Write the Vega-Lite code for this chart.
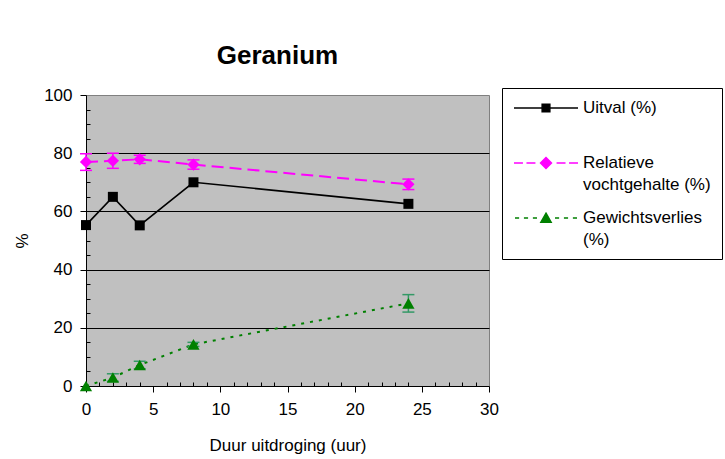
{
  "$schema": "https://vega.github.io/schema/vega-lite/v6.json",
  "width": 403,
  "height": 291,
  "autosize": {"type": "none"},
  "padding": {"left": 86, "top": 95, "right": 236, "bottom": 73},
  "background": "white",
  "title": {
    "text": "Geranium",
    "font": "Liberation Sans",
    "fontSize": 26,
    "fontWeight": "bold",
    "color": "black",
    "anchor": "middle",
    "offset": 17,
    "dx": -10
  },
  "config": {
    "font": "Liberation Sans",
    "view": {"fill": "#C0C0C0", "stroke": "#808080", "strokeWidth": 1},
    "axis": {
      "labelFont": "Liberation Sans",
      "labelFontSize": 17,
      "labelColor": "black",
      "titleFont": "Liberation Sans",
      "titleFontSize": 17,
      "titleFontWeight": "normal",
      "titleColor": "black",
      "domainColor": "black",
      "domainWidth": 1,
      "tickColor": "black",
      "tickWidth": 1
    }
  },
  "data": {
    "values": [
      {"uur": 0, "reeks": "Uitval (%)", "waarde": 55.3},
      {"uur": 2, "reeks": "Uitval (%)", "waarde": 65.0},
      {"uur": 4, "reeks": "Uitval (%)", "waarde": 55.2},
      {"uur": 8, "reeks": "Uitval (%)", "waarde": 70.0},
      {"uur": 24, "reeks": "Uitval (%)", "waarde": 62.6},
      {"uur": 0, "reeks": "Relatieve vochtgehalte (%)", "waarde": 77.0, "laag": 74.1, "hoog": 79.8},
      {"uur": 2, "reeks": "Relatieve vochtgehalte (%)", "waarde": 77.4, "laag": 74.8, "hoog": 80.0},
      {"uur": 4, "reeks": "Relatieve vochtgehalte (%)", "waarde": 77.9, "laag": 76.5, "hoog": 79.3},
      {"uur": 8, "reeks": "Relatieve vochtgehalte (%)", "waarde": 76.1, "laag": 74.5, "hoog": 77.7},
      {"uur": 24, "reeks": "Relatieve vochtgehalte (%)", "waarde": 69.3, "laag": 67.5, "hoog": 71.1},
      {"uur": 0, "reeks": "Gewichtsverlies (%)", "waarde": 0.0, "laag": 0.0, "hoog": 0.0},
      {"uur": 2, "reeks": "Gewichtsverlies (%)", "waarde": 2.9, "laag": 1.6, "hoog": 4.2},
      {"uur": 4, "reeks": "Gewichtsverlies (%)", "waarde": 7.2, "laag": 5.9, "hoog": 8.5},
      {"uur": 8, "reeks": "Gewichtsverlies (%)", "waarde": 14.3, "laag": 13.6, "hoog": 15.0},
      {"uur": 24, "reeks": "Gewichtsverlies (%)", "waarde": 28.4, "laag": 25.4, "hoog": 31.4}
    ]
  },
  "encoding": {
    "x": {
      "field": "uur",
      "type": "quantitative",
      "scale": {"domain": [0, 30], "nice": false},
      "axis": {
        "title": "Duur uitdroging (uur)",
        "values": [0,1,2,3,4,5,6,7,8,9,10,11,12,13,14,15,16,17,18,19,20,21,22,23,24,25,26,27,28,29,30],
        "labelExpr": "datum.value % 5 === 0 ? datum.label : ''",
        "tickSize": {"expr": "datum.value % 5 === 0 ? 6 : -4"},
        "labelPadding": 9,
        "labelFlush": false,
        "labelOverlap": false,
        "titlePadding": 20,
        "grid": false
      }
    },
    "y": {
      "field": "waarde",
      "type": "quantitative",
      "scale": {"domain": [0, 100], "nice": false},
      "axis": {
        "title": "%",
        "values": [0,5,10,15,20,25,30,35,40,45,50,55,60,65,70,75,80,85,90,95,100],
        "labelExpr": "datum.value % 20 === 0 ? datum.label : ''",
        "tickSize": {"expr": "datum.value % 20 === 0 ? 6 : -4"},
        "labelPadding": 8,
        "labelFlush": false,
        "labelOverlap": false,
        "titlePadding": 12,
        "grid": true,
        "gridColor": "black",
        "gridWidth": 1,
        "gridOpacity": {"expr": "datum.value % 20 === 0 && datum.value > 0 && datum.value < 100 ? 1 : 0"}
      }
    },
    "color": {
      "field": "reeks",
      "type": "nominal",
      "scale": {
        "domain": ["Uitval (%)", "Relatieve vochtgehalte (%)", "Gewichtsverlies (%)"],
        "range": ["#000000", "#FF00FF", "#008000"]
      },
      "legend": {
        "title": null,
        "orient": "none",
        "legendX": 416,
        "legendY": -7,
        "strokeColor": "black",
        "fillColor": "white",
        "padding": 11,
        "symbolSize": 256,
        "symbolOffset": 24,
        "labelFont": "Liberation Sans",
        "labelFontSize": 17,
        "labelColor": "black",
        "labelOffset": 28,
        "labelLimit": 300,
        "rowPadding": 16,
        "labelExpr": "datum.value === 'Relatieve vochtgehalte (%)' ? ['Relatieve', 'vochtgehalte (%)'] : datum.value === 'Gewichtsverlies (%)' ? ['Gewichtsverlies', '(%)'] : [datum.value, ' ']",
        "encode": {
          "symbols": {
            "update": {
              "shape": {"signal": "datum.value === 'Uitval (%)' ? 'M-4,0H-0.48M0.48,0H4M-0.48,-0.48H0.48V0.48H-0.48Z' : datum.value === 'Relatieve vochtgehalte (%)' ? 'M-4,0H-2.88M-2.44,0H-1.32M1.32,0H2.44M2.88,0H4M0,-0.68L0.68,0L0,0.68L-0.68,0Z' : 'M-3.88,0H-3.36M-2.76,0H-2.24M-1.64,0H-1.12M1.12,0H1.64M2.24,0H2.76M3.36,0H3.88M0,-0.6L0.64,0.52L-0.64,0.52Z'"},
              "fill": {"scale": "color", "field": "value"},
              "stroke": {"scale": "color", "field": "value"},
              "strokeWidth": {"value": 1.5},
              "opacity": {"value": 1}
            }
          },
          "labels": {
            "update": {
              "lineHeight": {"value": 22}
            }
          }
        }
      }
    }
  },
  "layer": [
    {
      "transform": [{"filter": "datum.reeks === 'Uitval (%)'"}],
      "mark": {"type": "line", "strokeWidth": 1.6}
    },
    {
      "transform": [{"filter": "datum.reeks === 'Uitval (%)'"}],
      "mark": {"type": "point", "shape": "square", "filled": true, "size": 100, "opacity": 1}
    },
    {
      "transform": [{"filter": "datum.reeks === 'Relatieve vochtgehalte (%)'"}],
      "mark": {"type": "line", "strokeWidth": 2, "strokeDash": [12, 6]}
    },
    {
      "transform": [{"filter": "datum.reeks === 'Relatieve vochtgehalte (%)'"}],
      "mark": {"type": "rule", "strokeWidth": 1.5, "color": "#FF00FF"},
      "encoding": {"y": {"field": "laag", "type": "quantitative"}, "y2": {"field": "hoog"}, "color": null}
    },
    {
      "transform": [{"filter": "datum.reeks === 'Relatieve vochtgehalte (%)'"}],
      "mark": {"type": "tick", "orient": "horizontal", "size": 12, "thickness": 1.5, "color": "#FF00FF", "opacity": 1},
      "encoding": {"y": {"field": "laag", "type": "quantitative"}, "color": null}
    },
    {
      "transform": [{"filter": "datum.reeks === 'Relatieve vochtgehalte (%)'"}],
      "mark": {"type": "tick", "orient": "horizontal", "size": 12, "thickness": 1.5, "color": "#FF00FF", "opacity": 1},
      "encoding": {"y": {"field": "hoog", "type": "quantitative"}, "color": null}
    },
    {
      "transform": [{"filter": "datum.reeks === 'Relatieve vochtgehalte (%)'"}],
      "mark": {"type": "point", "shape": "diamond", "filled": true, "size": 150, "opacity": 1}
    },
    {
      "transform": [{"filter": "datum.reeks === 'Gewichtsverlies (%)'"}],
      "mark": {"type": "line", "strokeWidth": 2, "strokeDash": [3, 6]}
    },
    {
      "transform": [{"filter": "datum.reeks === 'Gewichtsverlies (%)' && datum.uur > 0"}],
      "mark": {"type": "rule", "strokeWidth": 1.5, "color": "#339966"},
      "encoding": {"y": {"field": "laag", "type": "quantitative"}, "y2": {"field": "hoog"}, "color": null}
    },
    {
      "transform": [{"filter": "datum.reeks === 'Gewichtsverlies (%)' && datum.uur > 0"}],
      "mark": {"type": "tick", "orient": "horizontal", "size": 12, "thickness": 1.5, "color": "#339966", "opacity": 1},
      "encoding": {"y": {"field": "laag", "type": "quantitative"}, "color": null}
    },
    {
      "transform": [{"filter": "datum.reeks === 'Gewichtsverlies (%)' && datum.uur > 0"}],
      "mark": {"type": "tick", "orient": "horizontal", "size": 12, "thickness": 1.5, "color": "#339966", "opacity": 1},
      "encoding": {"y": {"field": "hoog", "type": "quantitative"}, "color": null}
    },
    {
      "transform": [{"filter": "datum.reeks === 'Gewichtsverlies (%)'"}],
      "mark": {"type": "point", "shape": "triangle-up", "filled": true, "size": 150, "opacity": 1}
    }
  ]
}
